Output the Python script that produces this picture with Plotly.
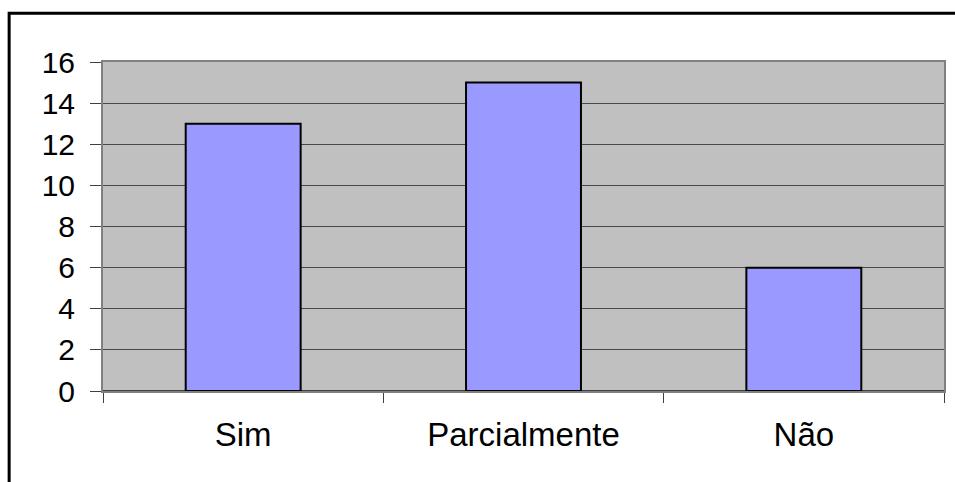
import plotly.graph_objects as go

categories = ["Sim", "Parcialmente", "Não"]
values = [13, 15, 6]
y_ticks = [0, 2, 4, 6, 8, 10, 12, 14, 16]

fig = go.Figure()
fig.add_trace(go.Bar(
    x=categories, y=values,
    marker=dict(color="#9999FF", line=dict(color="#000000", width=2)),
    width=0.41,
))

xfont = dict(family="Liberation Sans, Arial, sans-serif", size=33, color="#000000")
yfont = dict(family="Liberation Sans, Arial, sans-serif", size=30, color="#000000")

fig.update_layout(
    width=955, height=482,
    margin=dict(l=103, r=9, t=62, b=91),
    paper_bgcolor="#FFFFFF",
    plot_bgcolor="#C0C0C0",
    showlegend=False,
    font=xfont,
    xaxis=dict(
        type="category",
        tickson="boundaries",
        ticks="outside", ticklen=10, tickcolor="#404040", tickwidth=1,
        showgrid=False,
        showline=True, linecolor="#808080", linewidth=2, mirror=True,
        ticklabelstandoff=13,
        tickfont=xfont,
    ),
    yaxis=dict(
        range=[0, 16],
        tickvals=y_ticks,
        ticks="outside", ticklen=11, tickcolor="#404040", tickwidth=1,
        showgrid=True, gridcolor="#484848", gridwidth=1,
        zeroline=True, zerolinecolor="#404040", zerolinewidth=2,
        showline=True, linecolor="#808080", linewidth=2, mirror=True,
        ticklabelstandoff=9,
        tickfont=yfont,
    ),
    shapes=[dict(
        type="rect", xref="paper", yref="paper",
        x0=-0.1116, x1=1.03, y0=-0.35, y1=1.148,
        line=dict(color="#000000", width=3),
        fillcolor="rgba(0,0,0,0)", layer="above",
    )],
)

fig.write_html(
    "out.html",
    config={"displayModeBar": False},
    post_script="document.body.style.margin='0';document.body.style.overflow='hidden';",
)
